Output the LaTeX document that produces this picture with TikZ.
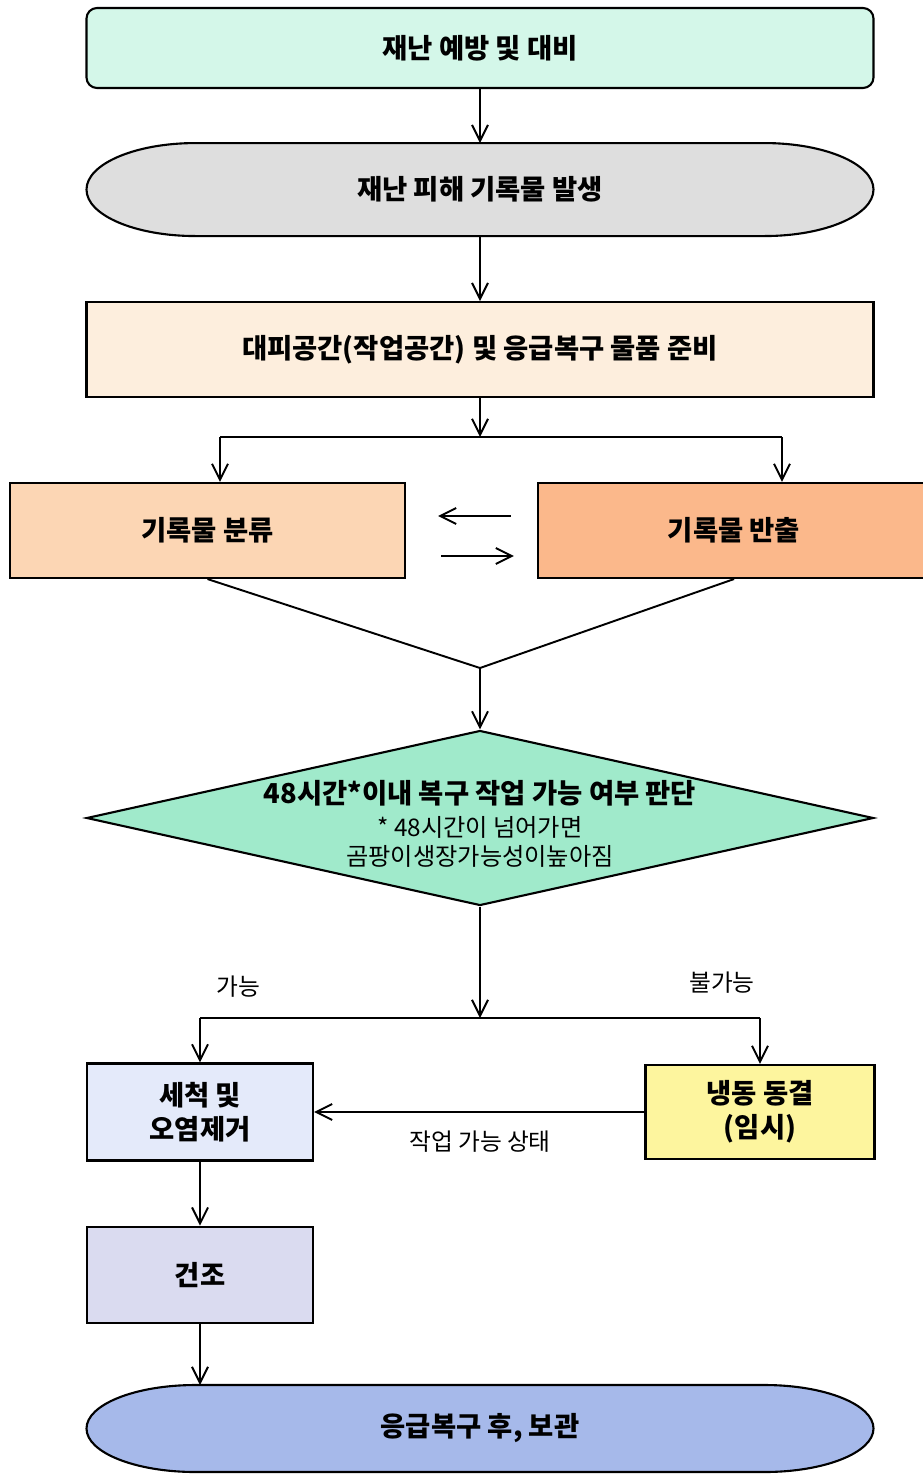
\documentclass[tikz,border=0pt]{standalone}
\usepackage{fontspec}
\setmainfont{Noto Sans CJK KR}
\usepackage{xcolor}
\usepackage{tikz}
\usetikzlibrary{shapes,arrows.meta,positioning,backgrounds}

\definecolor{prevfill}{HTML}{D4F7E9}
\definecolor{occurfill}{HTML}{DEDEDE}
\definecolor{prepfill}{HTML}{FDEEDD}
\definecolor{sortfill}{HTML}{FCD6B4}
\definecolor{outfill}{HTML}{FBB88B}
\definecolor{judgefill}{HTML}{A0EACB}
\definecolor{cleanfill}{HTML}{E4EAFA}
\definecolor{freezefill}{HTML}{FDF59E}
\definecolor{dryfill}{HTML}{DADBF0}
\definecolor{storefill}{HTML}{A6B9EA}

\begin{document}
\begin{tikzpicture}[line width=1.1pt, >={Straight Barb[length=3.2mm,width=3.2mm]},
  box/.style={draw, rectangle, inner sep=0pt, align=center, line width=1.2pt, font=\fontsize{15.6}{19.5}\selectfont\bfseries},
  note/.style={inner sep=0pt, font=\fontsize{13.5}{16}\selectfont}]

\useasboundingbox (0,0) rectangle (18.44,-29.5);

\node(prev)[box, fill=prevfill, rounded corners=6pt, minimum width=15.74cm, minimum height=1.6cm] at (9.6,-0.96) {재난 예방 및 대비};
\node(occur)[box, draw=none, outer sep=0pt, below =1.08cm of prev, minimum width=15.74cm, minimum height=1.86cm]{재난 피해 기록물 발생};
\node(prep)[box, fill=prepfill, below =1.3cm of occur, minimum width=15.74cm, minimum height=1.9cm]{대피공간(작업공간) 및 응급복구 물품 준비};

\node(sort)[box, fill=sortfill, minimum width=7.9cm, minimum height=1.9cm] at (4.15,-10.61) {기록물 분류};
\node(out)[box, fill=outfill, minimum width=7.84cm, minimum height=1.9cm] at (14.68,-10.61) {기록물 반출};

\coordinate(branchL) at (4.4,-8.74);
\coordinate(branchR) at (15.64,-8.74);
\coordinate(merge) at (9.6,-13.36);

\node(judge)[diamond, draw, fill=judgefill, line width=1.2pt, minimum width=15.74cm, minimum height=3.5cm, inner sep=0pt] at (9.6,-16.36) {};
\node(judgetxt)[align=center, inner sep=0pt, font=\fontsize{13.8}{16.5}\selectfont] at (9.6,-16.48) {{\fontsize{15.6}{16.5}\selectfont\bfseries 48시간*이내 복구 작업 가능 여부 판단}\\[2pt] * 48시간이 넘어가면\\ 곰팡이생장가능성이높아짐};

\coordinate(split) at (9.6,-20.36);
\node(poss)[note] at (4.76,-19.74) {가능};
\node(imposs)[note] at (14.44,-19.66) {불가능};

\node(clean)[box, fill=cleanfill, minimum width=4.52cm, minimum height=1.94cm] at (4.0,-22.24) {세척 및\\오염제거};
\node(freeze)[box, fill=freezefill, minimum width=4.58cm, minimum height=1.88cm] at (15.2,-22.24) {냉동 동결\\(임시)};
\node(state)[note] at (9.6,-22.84) {작업 가능 상태};
\node(dry)[box, fill=dryfill, below =1.28cm of clean, minimum width=4.52cm, minimum height=1.92cm]{건조};
\node(store)[box, draw=none, outer sep=0pt, minimum width=15.74cm, minimum height=1.74cm] at (9.6,-28.57) {응급복구 후, 보관};

% oval outlines behind the text
\begin{scope}[on background layer]
\foreach \n/\ry/\c in {occur/0.93/occurfill, store/0.87/storefill}
	\draw[fill=\c, line width=1.2pt] ([xshift=2.18cm]\n.north west) -- ([xshift=-2.18cm]\n.north east)
		arc[start angle=90, end angle=-90, x radius=2.18cm, y radius=\ry cm]
		-- ([xshift=2.18cm]\n.south west)
		arc[start angle=270, end angle=90, x radius=2.18cm, y radius=\ry cm] -- cycle;
\end{scope}

\draw[->](prev)--(occur);
\draw[->](occur)--(prep);
\draw[->](prep)--(prep.south |- branchL);
\draw(branchL)--(branchR);
\draw[->](branchL)--(branchL |- sort.north);
\draw[->](branchR)--(branchR |- out.north);

\draw[->, shorten <=0.52cm, shorten >=0.64cm]([yshift=0.29cm]out.west)--([yshift=0.29cm]sort.east);
\draw[->, shorten <=0.7cm, shorten >=0.46cm]([yshift=-0.51cm]sort.east)--([yshift=-0.51cm]out.west);

\draw(sort.south)--(merge)--(out.south);
\draw[->](merge)--(judge.north);

\draw[->](judge.south)--(split);
\draw(clean.north |- split)--(freeze.north |- split);
\foreach \x in {clean, freeze}
	\draw[->](\x.north |- split)--(\x);

\draw[->](freeze)--(clean);
\draw[->](clean)--(dry);
\draw[->](dry)--(dry |- store.north);

\end{tikzpicture}
\end{document}
